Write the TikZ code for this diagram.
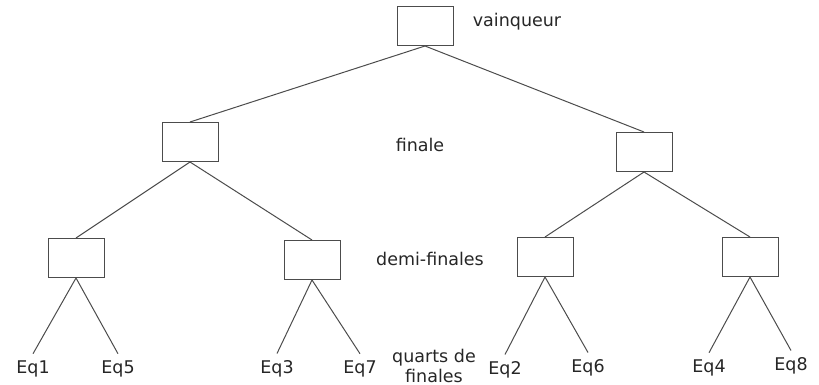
\documentclass[tikz,border=0pt]{standalone}
\usepackage{fontspec}
\setmainfont{DejaVu Sans}
\begin{document}
\begin{tikzpicture}[
            x=1pt, y=-1pt,
            line width=1pt,
            every node/.style={font=\fontsize{17.5}{20}\selectfont, text=black!85},
            match/.style={rectangle, draw=black!70, minimum width=56pt, minimum height=39pt, inner sep=0pt},
            team/.style={anchor=base, inner xsep=1pt, inner ysep=6pt},
            round/.style={anchor=base, align=center},
            edge/.style={draw=black!70}
            ]
            \useasboundingbox (0,0) rectangle (819,385);
            % matches
            \node[match] (v) at (425,26) {};
            \node[match] (f1) at (190,142) {};
            \node[match] (f2) at (644,152) {};
            \node[match] (d1) at (76,258) {};
            \node[match] (d2) at (312,260) {};
            \node[match] (d3) at (545,257) {};
            \node[match] (d4) at (750,257) {};
            % teams
            \node[team] (eq1) at (33,373) {Eq1};
            \node[team] (eq5) at (118,373) {Eq5};
            \node[team] (eq3) at (277,373) {Eq3};
            \node[team] (eq7) at (360,373) {Eq7};
            \node[team] (eq2) at (505,374) {Eq2};
            \node[team] (eq6) at (588,372) {Eq6};
            \node[team] (eq4) at (709,372) {Eq4};
            \node[team] (eq8) at (791,370) {Eq8};
            % rounds
            \node[round] (rv) at (517,27) {vainqueur};
            \node[round] (rf) at (420,151) {finale};
            \node[round] (rd) at (430,265) {demi-finales};
            \node[round] (rq) at (434,382) {quarts de\\finales};
            % edges
            \draw[edge] (v.south) -- (f1.north) (v.south) -- (f2.north);
            \draw[edge] (f1.south) -- (d1.north) (f1.south) -- (d2.north);
            \draw[edge] (f2.south) -- (d3.north) (f2.south) -- (d4.north);
            \draw[edge] (d1.south) -- (eq1.north) (d1.south) -- (eq5.north);
            \draw[edge] (d2.south) -- (eq3.north) (d2.south) -- (eq7.north);
            \draw[edge] (d3.south) -- (eq2.north) (d3.south) -- (eq6.north);
            \draw[edge] (d4.south) -- (eq4.north) (d4.south) -- (eq8.north);
\end{tikzpicture}
\end{document}
